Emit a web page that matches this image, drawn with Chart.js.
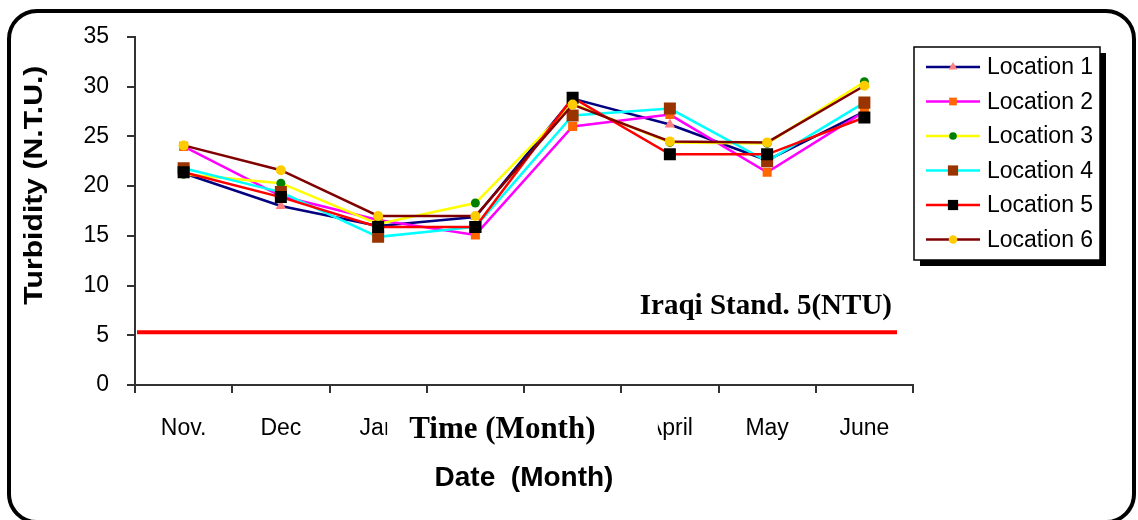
<!DOCTYPE html>
<html>
<head>
<meta charset="utf-8">
<script src="https://cdn.jsdelivr.net/npm/chart.js@4.4.0/dist/chart.umd.min.js"></script>
<style>
  html, body { margin: 0; padding: 0; background: #fff; }
  .frame {
    position: absolute; left: 7px; top: 9px;
    width: 1129px; height: 515px;
    box-sizing: border-box;
    border: 4px solid #000; border-radius: 30px;
  }
  .wrap { position: absolute; left: 0; top: 0; width: 1138px; height: 520px; }
</style>
</head>
<body>
<div class="frame"></div>
<div class="wrap"><canvas id="turbidityChart" width="1138" height="520"></canvas></div>
<script>
// months along the x axis (Feb / March sit under the "Time (Month)" box)
const months = ['Nov.', 'Dec', 'Jan', 'Feb', 'March', 'April', 'May', 'June']

// turbidity values, N.T.U.
const location1 = [21.3, 18.0, 16.0, 16.9, 28.8, 26.2, 22.6, 27.5]
const location2 = [24.0, 19.0, 16.6, 15.1, 26.0, 27.2, 21.4, 27.5]
const location3 = [21.2, 20.3, 16.2, 18.3, 28.3, 24.4, 24.3, 30.5]
const location4 = [21.8, 19.4, 14.9, 15.9, 27.1, 27.8, 22.5, 28.4]
const location5 = [21.4, 18.9, 15.9, 15.9, 28.9, 23.2, 23.2, 26.9]
const location6 = [24.1, 21.6, 17.0, 17.0, 28.2, 24.5, 24.4, 30.1]

const locationNames = ['Location 1', 'Location 2', 'Location 3', 'Location 4', 'Location 5', 'Location 6']

const yMin = 0
const yMax = 35
const yStep = 5

const iraqiStandard = 5.3
const standardLabel = 'Iraqi Stand. 5(NTU)'
const overlayLabel = 'Time (Month)'
const yTitle = 'Turbidity (N.T.U.)'

const series = [
  { data: location1, line: '#000080', mark: '#FF8080', style: 'triangle', r: 6 },
  { data: location2, line: '#FF00FF', mark: '#FF6600', style: 'rect', r: 6.4 },
  { data: location3, line: '#FFFF00', mark: '#008000', style: 'circle', r: 4.5 },
  { data: location4, line: '#00FFFF', mark: '#993300', style: 'rect', r: 8.5 },
  { data: location5, line: '#FF0000', mark: '#000000', style: 'rect', r: 8.5 },
  { data: location6, line: '#800000', mark: '#FFCC00', style: 'circle', r: 5 }
]

const standardLine = {
  id: 'standardLine',
  afterDatasetsDraw (chart) {
    const { ctx, chartArea, scales: { y } } = chart
    const py = y.getPixelForValue(iraqiStandard)
    ctx.save()
    ctx.strokeStyle = '#FF0000'
    ctx.lineWidth = 4
    ctx.beginPath()
    ctx.moveTo(chartArea.left + 2, py)
    ctx.lineTo(chartArea.right - 16, py)
    ctx.stroke()
    ctx.fillStyle = '#000'
    ctx.font = 'bold 29px "Liberation Serif"'
    ctx.textAlign = 'right'
    ctx.textBaseline = 'alphabetic'
    ctx.fillText(standardLabel, chartArea.right - 21, py - 18)
    ctx.restore()
  }
}

// white box with serif text laid over the middle month labels
const timeOverlay = {
  id: 'timeOverlay',
  afterDraw (chart) {
    const { ctx, scales: { x } } = chart
    const left = x.getPixelForValue(2) + 9
    const right = x.getPixelForValue(5) - 12
    ctx.save()
    ctx.fillStyle = '#fff'
    ctx.fillRect(left, x.top + 16, right - left, 52)
    ctx.fillStyle = '#000'
    ctx.font = 'bold 31px "Liberation Serif"'
    ctx.textAlign = 'center'
    ctx.textBaseline = 'alphabetic'
    ctx.fillText(overlayLabel, x.getPixelForValue(3) + 27, x.top + 53)
    ctx.restore()
  }
}

// y title sits a bit above the axis middle and is drawn stretched, like the original
const yTitlePlugin = {
  id: 'yTitlePlugin',
  afterDraw (chart) {
    const { ctx, scales: { y } } = chart
    ctx.save()
    ctx.translate(35, y.getPixelForValue(20.1))
    ctx.rotate(-Math.PI / 2)
    ctx.scale(1.16, 1)
    ctx.fillStyle = '#000'
    ctx.font = 'bold 26px "Liberation Sans"'
    ctx.textAlign = 'center'
    ctx.textBaseline = 'middle'
    ctx.fillText(yTitle, 0, 0)
    ctx.restore()
  }
}

const legendBox = {
  id: 'legendBox',
  afterDraw (chart) {
    const { ctx } = chart
    const bx = 914
    const by = 47
    const bw = 186
    const bh = 213
    ctx.save()
    ctx.fillStyle = '#000'
    ctx.fillRect(bx + 6, by + 6, bw, bh)
    ctx.fillStyle = '#fff'
    ctx.fillRect(bx, by, bw, bh)
    ctx.strokeStyle = '#000'
    ctx.lineWidth = 1.5
    ctx.strokeRect(bx, by, bw, bh)
    chart.data.datasets.forEach((ds, i) => {
      const rowY = by + 20 + i * 34.5
      ctx.strokeStyle = ds.borderColor
      ctx.lineWidth = 2.5
      ctx.beginPath()
      ctx.moveTo(bx + 12, rowY)
      ctx.lineTo(bx + 66, rowY)
      ctx.stroke()
      ctx.fillStyle = ds.pointBackgroundColor
      Chart.helpers.drawPoint(ctx, { pointStyle: ds.pointStyle, radius: ds.pointRadius * 0.85, rotation: 0, borderWidth: 0 }, bx + 39, rowY)
      ctx.fillStyle = '#000'
      ctx.font = '23px "Liberation Sans"'
      ctx.textAlign = 'left'
      ctx.textBaseline = 'middle'
      ctx.fillText(ds.label, bx + 73, rowY + 1)
    })
    ctx.restore()
  }
}

const ctx = document.getElementById('turbidityChart').getContext('2d')

new Chart(ctx, {
  type: 'line',
  data: {
    labels: months,
    datasets: series.map((s, i) => ({
      label: locationNames[i],
      data: s.data,
      borderColor: s.line,
      borderWidth: 2.5,
      pointStyle: s.style,
      pointRadius: s.r,
      pointBackgroundColor: s.mark,
      pointBorderWidth: 0,
      tension: 0,
      order: series.length - i
    }))
  },
  options: {
    responsive: false,
    animation: false,
    layout: { padding: { left: 0, top: 37, right: 225, bottom: 0 } },
    plugins: {
      legend: { display: false },
      tooltip: { enabled: false }
    },
    scales: {
      x: {
        offset: true,
        afterFit: (scale) => { scale.height = 135 },
        grid: { offset: true, drawOnChartArea: false, drawTicks: true, tickLength: 8, color: '#333', lineWidth: 2 },
        border: { color: '#333', width: 2 },
        ticks: { color: '#000', font: { family: '"Liberation Sans"', size: 23 }, padding: 22, maxRotation: 0, autoSkip: false },
        title: {
          display: true,
          text: 'Date  (Month)',
          color: '#000',
          font: { family: '"Liberation Sans"', size: 28, weight: 'bold' },
          padding: { bottom: 25 }
        }
      },
      y: {
        min: yMin,
        max: yMax,
        afterFit: (scale) => { scale.width = 135 },
        grid: { drawOnChartArea: false, drawTicks: true, tickLength: 8, color: '#333', lineWidth: 2 },
        border: { color: '#333', width: 2 },
        ticks: { stepSize: yStep, color: '#000', font: { family: '"Liberation Sans"', size: 23 }, padding: 18 }
      }
    }
  },
  plugins: [standardLine, timeOverlay, yTitlePlugin, legendBox]
})
</script>
</body>
</html>
